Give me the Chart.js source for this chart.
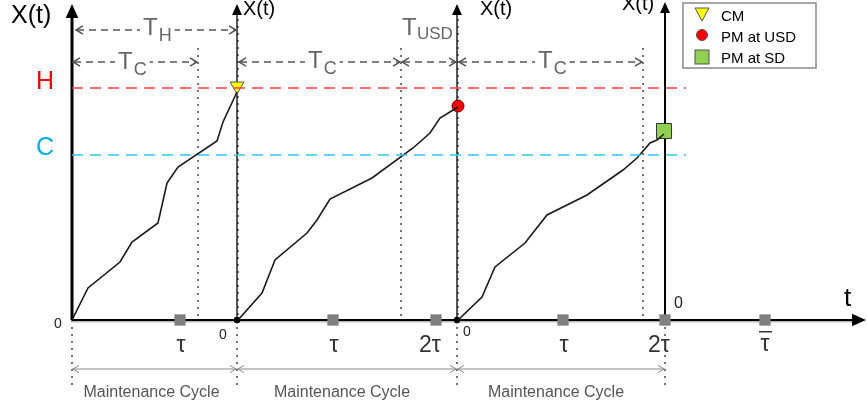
<!DOCTYPE html>
<html>
<head>
<meta charset="utf-8">
<script src="https://cdn.jsdelivr.net/npm/chart.js@4.4.0/dist/chart.umd.min.js"></script>
<style>
html, body { margin: 0; padding: 0; background: #fff; }
</style>
</head>
<body>
<canvas id="myChart" width="867" height="408"></canvas>
<script>
// time axis runs in arbitrary units, degradation X(t) likewise
const cycleStarts = [0, 165, 385, 593]
const thresholdH = 232
const thresholdC = 165
const thresholdEnd = 614

const path1 = [[0, 0], [16, 32], [48, 58], [60, 78], [86, 97], [95, 137], [106, 153], [145, 179], [151, 198], [165, 228]]
const path2 = [[166, 0], [190, 27], [203, 60], [235, 87], [245, 100], [258, 121], [300, 142], [341, 172], [358, 187], [368, 202], [386, 213]]
const path3 = [[386, 0], [410, 23], [423, 53], [453, 77], [475, 105], [515, 125], [551, 150], [565, 162], [578, 177], [585, 180], [592, 186]]

const cmPoint = [[165, 234]]
const pmUsdPoint = [[386, 214]]
const pmSdPoint = [[592, 189]]

const inspectTimes = [108, 261, 364, 491, 593, 693]
const inspectLabels = ['τ', 'τ', '2τ', 'τ', '2τ', 'τ̄']

const tcEnds = [126, 329, 571]
const legendLabels = ['CM', 'PM at USD', 'PM at SD']

const pts = arr => arr.map(p => ({ x: p[0], y: p[1] }))

function fillArrow(ctx, x, y, dir, s) {
    ctx.beginPath()
    if (dir === 'up') { ctx.moveTo(x, y); ctx.lineTo(x - s * 0.45, y + s); ctx.lineTo(x + s * 0.45, y + s) }
    else { ctx.moveTo(x, y); ctx.lineTo(x - s, y - s * 0.45); ctx.lineTo(x - s, y + s * 0.45) }
    ctx.closePath()
    ctx.fill()
}

function openArrow(ctx, x, y, dir, s) {
    const d = dir === 'left' ? 1 : -1
    ctx.beginPath()
    ctx.moveTo(x + d * s, y - s * 0.6)
    ctx.lineTo(x, y)
    ctx.lineTo(x + d * s, y + s * 0.6)
    ctx.stroke()
}

function subLabel(ctx, x, base, main, sub) {
    ctx.font = '24px "Liberation Sans", Arial, sans-serif'
    const w = ctx.measureText(main).width
    ctx.font = '18px "Liberation Sans", Arial, sans-serif'
    const w2 = ctx.measureText(sub).width
    ctx.fillStyle = '#fff'
    ctx.fillRect(x - 3, base - 20, w + w2 + 7, 28)
    ctx.fillStyle = '#666'
    ctx.font = '24px "Liberation Sans", Arial, sans-serif'
    ctx.fillText(main, x, base)
    ctx.font = '18px "Liberation Sans", Arial, sans-serif'
    ctx.fillText(sub, x + w + 1, base + 6)
}

const diagram = {
    id: 'diagram',
    beforeDatasetsDraw(chart) {
        const { ctx, scales: { x, y } } = chart
        const px = v => x.getPixelForValue(v)
        const py = v => y.getPixelForValue(v)
        const y0 = py(0)
        ctx.save()

        // dotted lines where X(t) crosses C
        ctx.strokeStyle = '#444'
        ctx.lineWidth = 1.5
        ctx.setLineDash([2, 5])
        tcEnds.forEach(t => {
            ctx.beginPath(); ctx.moveTo(px(t), 48); ctx.lineTo(px(t), y0); ctx.stroke()
        })
        // dotted cycle boundaries below the time axis
        cycleStarts.forEach(t => {
            ctx.beginPath(); ctx.moveTo(px(t), y0); ctx.lineTo(px(t), 385); ctx.stroke()
        })
        // dotted overlay on the restarted axes
        ctx.strokeStyle = '#555'
        ;[1, 2].forEach(i => {
            ctx.beginPath(); ctx.moveTo(px(cycleStarts[i]) + 1, 12); ctx.lineTo(px(cycleStarts[i]) + 1, y0); ctx.stroke()
        })
        ctx.setLineDash([])

        // vertical axes
        ctx.fillStyle = '#000'
        ctx.strokeStyle = '#000'
        cycleStarts.forEach((t, i) => {
            const xx = px(t)
            ctx.lineWidth = i === 0 ? 3 : (i === 3 ? 2 : 1.3)
            const top = i === 3 ? 2 : 4
            ctx.beginPath(); ctx.moveTo(xx, y0); ctx.lineTo(xx, top + 8); ctx.stroke()
            fillArrow(ctx, xx, top, 'up', i === 0 ? 14 : 11)
        })

        // time axis
        ctx.strokeStyle = '#bbb'
        ctx.lineWidth = 3
        ctx.beginPath(); ctx.moveTo(px(0), y0 + 1); ctx.lineTo(855, y0 + 1); ctx.stroke()
        ctx.strokeStyle = '#000'
        ctx.lineWidth = 2
        ctx.beginPath(); ctx.moveTo(px(0), y0); ctx.lineTo(852, y0); ctx.stroke()
        fillArrow(ctx, 866, y0, 'right', 14)

        // dimension rows T_H, T_C, T_USD
        ctx.strokeStyle = '#555'
        ctx.lineWidth = 1.5
        const rows = [
            [px(0) + 3, px(cycleStarts[1]), 30],
            [px(0), px(tcEnds[0]), 62],
            [px(cycleStarts[1]) + 1, px(tcEnds[1]), 62],
            [px(tcEnds[1]), px(cycleStarts[2]), 62],
            [px(cycleStarts[2]) + 1, px(tcEnds[2]), 62]
        ]
        rows.forEach(r => {
            ctx.setLineDash([7, 5])
            ctx.beginPath(); ctx.moveTo(r[0] + 2, r[2]); ctx.lineTo(r[1] - 2, r[2]); ctx.stroke()
            ctx.setLineDash([])
            openArrow(ctx, r[0] + 1, r[2], 'left', 7)
            openArrow(ctx, r[1] - 1, r[2], 'right', 7)
        })
        ctx.textBaseline = 'alphabetic'
        ctx.textAlign = 'left'
        subLabel(ctx, 143, 35, 'T', 'H')
        subLabel(ctx, 118, 69, 'T', 'C')
        subLabel(ctx, 308, 68, 'T', 'C')
        subLabel(ctx, 538, 68, 'T', 'C')
        ctx.fillStyle = '#666'
        ctx.font = '24px "Liberation Sans", Arial, sans-serif'
        ctx.fillText('T', 402, 35)
        ctx.font = '17px "Liberation Sans", Arial, sans-serif'
        ctx.fillText('USD', 417, 39)

        // maintenance cycle arrows
        ctx.strokeStyle = '#888'
        ctx.lineWidth = 1
        for (let i = 0; i < 3; i++) {
            const a = px(cycleStarts[i]), b = px(cycleStarts[i + 1])
            ctx.beginPath(); ctx.moveTo(a, 369); ctx.lineTo(b, 369); ctx.stroke()
            openArrow(ctx, a + 1, 369, 'left', 6)
            openArrow(ctx, b - 1, 369, 'right', 6)
        }
        ctx.restore()
    },
    afterDraw(chart) {
        const { ctx, scales: { x, y } } = chart
        const px = v => x.getPixelForValue(v)
        ctx.save()
        const sans = '"Liberation Sans", Arial, sans-serif'
        ctx.textBaseline = 'alphabetic'

        // axis titles
        ctx.fillStyle = '#000'
        ctx.textAlign = 'left'
        ctx.font = '25px ' + sans
        ctx.fillText('X(t)', 11, 23)
        ctx.font = '20px ' + sans
        ctx.fillText('X(t)', 243, 15)
        ctx.fillText('X(t)', 480, 15)
        ctx.fillText('X(t)', 622, 10)
        ctx.font = '26px ' + sans
        ctx.fillText('t', 844, 306)

        // thresholds
        ctx.font = '25px ' + sans
        ctx.fillStyle = '#ff0000'
        ctx.fillText('H', 36, 89)
        ctx.fillStyle = '#00b0f0'
        ctx.fillText('C', 36, 155)

        // zeros
        ctx.fillStyle = '#222'
        ctx.font = '14px ' + sans
        ctx.fillText('0', 54, 328)
        ctx.fillText('0', 219, 339)
        ctx.fillText('0', 463, 336)
        ctx.font = '16px ' + sans
        ctx.fillText('0', 674, 308)

        // inspection labels
        ctx.fillStyle = '#333'
        ctx.font = '23px ' + sans
        ctx.textAlign = 'center'
        inspectTimes.forEach((t, i) => {
            const lab = inspectLabels[i]
            const shift = lab.startsWith('2') ? -6 : 1
            if (lab === 'τ̄') {
                ctx.fillText('τ', px(t), 351)
                ctx.fillRect(px(t) - 6, 331, 13, 1.5)
            } else {
                ctx.fillText(lab, px(t) + shift, 352)
            }
        })

        // maintenance cycle captions
        ctx.fillStyle = '#555'
        ctx.font = '16px ' + sans
        for (let i = 0; i < 3; i++) {
            const c = (px(cycleStarts[i]) + px(cycleStarts[i + 1])) / 2
            ctx.fillText('Maintenance Cycle', c - (i === 0 ? 3 : 5), 397)
        }

        // legend
        ctx.fillStyle = '#fff'
        ctx.fillRect(683, 3, 133, 65)
        ctx.strokeStyle = '#888'
        ctx.lineWidth = 1.5
        ctx.strokeRect(683, 3, 133, 65)
        ctx.textAlign = 'left'
        ctx.fillStyle = '#000'
        ctx.font = '15px ' + sans
        legendLabels.forEach((lab, i) => ctx.fillText(lab, 721, 21 + i * 21))
        ctx.strokeStyle = '#555'
        ctx.lineWidth = 1
        ctx.fillStyle = '#ffff00'
        ctx.beginPath(); ctx.moveTo(695, 8); ctx.lineTo(709, 8); ctx.lineTo(702, 21); ctx.closePath(); ctx.fill(); ctx.stroke()
        ctx.fillStyle = '#ff0000'
        ctx.beginPath(); ctx.arc(702, 35, 5.5, 0, Math.PI * 2); ctx.fill(); ctx.stroke()
        ctx.fillStyle = '#92d050'
        ctx.fillRect(695, 50, 14, 14); ctx.strokeRect(695, 50, 14, 14)
        ctx.restore()
    }
}

const pathStyle = { borderColor: '#1a1a1a', borderWidth: 1.6, pointRadius: 0, fill: false, tension: 0 }

const config = {
    type: 'line',
    data: {
        datasets: [
            { label: 'H', data: [{ x: 0, y: thresholdH }, { x: thresholdEnd, y: thresholdH }], borderColor: '#ff4040', borderWidth: 1.6, borderDash: [11, 7], pointRadius: 0 },
            { label: 'C', data: [{ x: 0, y: thresholdC }, { x: thresholdEnd, y: thresholdC }], borderColor: '#33c4f5', borderWidth: 1.6, borderDash: [11, 7], pointRadius: 0 },
            { label: 'path 1', data: pts(path1), ...pathStyle },
            { label: 'path 2', data: pts(path2), ...pathStyle },
            { label: 'path 3', data: pts(path3), ...pathStyle },
            { label: 'inspections', data: inspectTimes.map(t => ({ x: t, y: 0 })), showLine: false, clip: false, pointStyle: 'rect', pointRadius: 8, backgroundColor: '#808080', borderWidth: 0 },
            { label: 'restart', data: cycleStarts.slice(1, 3).map(t => ({ x: t, y: 0 })), showLine: false, clip: false, pointRadius: 3, backgroundColor: '#000', borderColor: '#000' },
            { label: 'CM', data: pts(cmPoint), showLine: false, clip: false, pointStyle: 'triangle', pointRotation: 180, pointRadius: 8, backgroundColor: '#ffff00', borderColor: '#555', borderWidth: 1 },
            { label: 'PM at USD', data: pts(pmUsdPoint), showLine: false, clip: false, pointRadius: 6, backgroundColor: '#ff0000', borderColor: '#600', borderWidth: 1 },
            { label: 'PM at SD', data: pts(pmSdPoint), showLine: false, clip: false, pointStyle: 'rect', pointRadius: 10.6, backgroundColor: '#92d050', borderColor: '#333', borderWidth: 1 }
        ]
    },
    options: {
        responsive: false,
        animation: false,
        layout: { autoPadding: false, padding: { left: 72, right: 5, top: 0, bottom: 88 } },
        scales: {
            x: { type: 'linear', min: 0, max: 790, display: false },
            y: { type: 'linear', min: 0, max: 320, display: false }
        },
        plugins: { legend: { display: false }, tooltip: { enabled: false } }
    },
    plugins: [diagram]
}

new Chart(document.getElementById('myChart'), config)
</script>
</body>
</html>
